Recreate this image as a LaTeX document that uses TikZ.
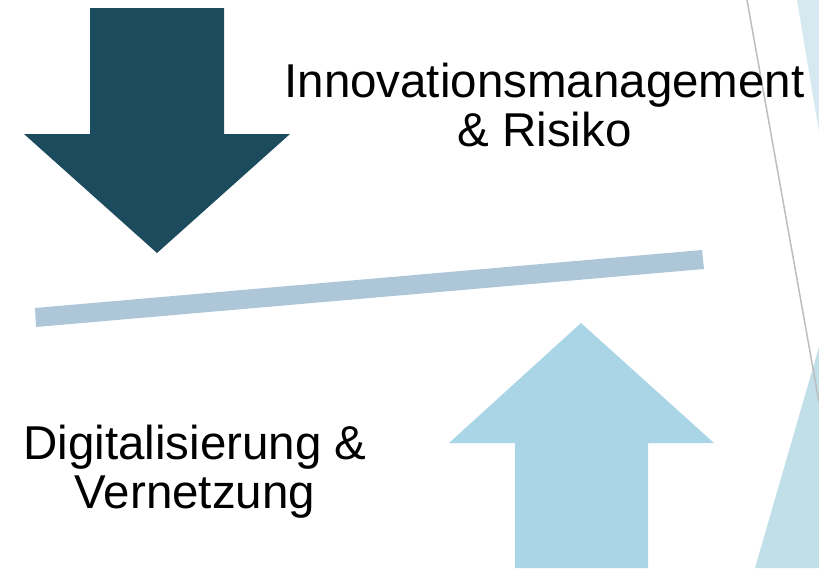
\documentclass[tikz,border=0pt]{standalone}
\usepackage{fontspec}
\setmainfont{Liberation Sans}
\definecolor{darkarrow}{HTML}{1D4B5E}
\definecolor{barcol}{HTML}{ADC6D8}
\definecolor{lightarrow}{HTML}{A9D5E7}
\definecolor{paletri}{HTML}{D6E9F0}
\definecolor{lowtri}{HTML}{C1DFE9}
\definecolor{greyline}{HTML}{BDBDBD}
\begin{document}
\begin{tikzpicture}[x=1pt,y=-1pt,
  bigtext/.style={font=\fontsize{47.5}{49}\selectfont, align=center, inner sep=0pt, anchor=north, text=black}]
\useasboundingbox (0,0) rectangle (819,568);
% decorative triangles on the right
\fill[paletri] (797,0) -- (819,0) -- (819,132) -- cycle;
\fill[lowtri] (755,568) -- (819,347) -- (819,568) -- cycle;
\draw[greyline, line width=1.5pt] (747,0) -- (819,402);
% dark arrow down
\fill[darkarrow] (90,8) -- (224,8) -- (224,134) -- (290,134) -- (157,253) -- (24,134) -- (90,134) -- cycle;
% tilted bar
\fill[barcol] (35,308) -- (702,250) -- (704,269) -- (36,327) -- cycle;
% light arrow up
\fill[lightarrow] (581,323) -- (714,443) -- (648,443) -- (648,568) -- (515,568) -- (515,443) -- (449,443) -- cycle;
% texts
\node[bigtext] (top) at (544.5,62.5) {Innovationsmanagement\\\& Risiko};
\node[bigtext] (bottom) at (195,425.3) {Digitalisierung \&\\Vernetzung};
\end{tikzpicture}
\end{document}
